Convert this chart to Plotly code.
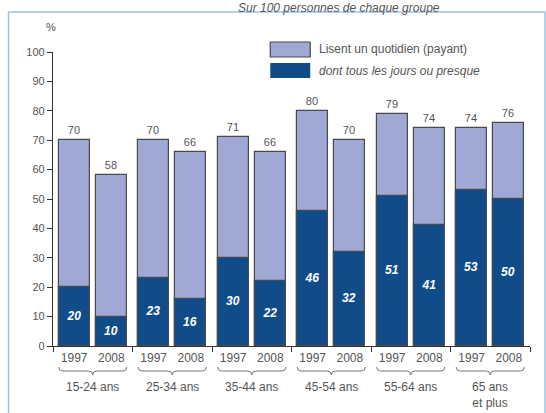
import plotly.graph_objects as go

groups = ["15-24 ans", "25-34 ans", "35-44 ans", "45-54 ans", "55-64 ans", "65 ans<br>et plus"]
years = ["1997", "2008"]
total_1997 = [70, 70, 71, 80, 79, 74]
total_2008 = [58, 66, 66, 70, 74, 76]
daily_1997 = [20, 23, 30, 46, 51, 53]
daily_2008 = [10, 16, 22, 32, 41, 50]

LIGHT = "#a0a8d6"
DARK = "#114c8a"
GRAY = "#555555"
FONT = "Liberation Sans, Arial, sans-serif"

# layout geometry (pixels -> paper)
L, R, T, B = 52.5, 530, 52, 346
def px_x(p):
    return (p - L) / (R - L)
def px_y(p):
    return (B - p) / (B - T)

offsets = [0.266, 0.734]
width = 0.39

xs, totals, dailies, ticktext = [], [], [], []
for g in range(len(groups)):
    for k, (tot, dly) in enumerate([(total_1997[g], daily_1997[g]), (total_2008[g], daily_2008[g])]):
        xs.append(g + offsets[k])
        totals.append(tot)
        dailies.append(dly)
        ticktext.append(years[k])

fig = go.Figure()
fig.add_trace(go.Bar(
    x=xs, y=totals, width=width,
    marker=dict(color=LIGHT, line=dict(color="#4a4a4a", width=1.2)),
    text=[str(v) for v in totals], textposition="outside",
    textfont=dict(color=GRAY, size=11, family=FONT),
    cliponaxis=False, showlegend=False, name="Lisent un quotidien (payant)",
))
fig.add_trace(go.Bar(
    x=xs, y=dailies, width=width,
    marker=dict(color=DARK, line=dict(color="#4a4a4a", width=1.2)),
    text=[str(v) for v in dailies], textposition="inside", insidetextanchor="middle",
    textfont=dict(color="white", size=12, family=FONT, weight="bold", style="italic"),
    showlegend=False, name="dont tous les jours ou presque",
))

shapes = []
annotations = []

# outer frame
shapes.append(dict(type="rect", xref="paper", yref="paper",
                   x0=px_x(8), x1=px_x(545), y0=px_y(460), y1=px_y(12),
                   line=dict(color="#9cc3e6", width=1.5), fillcolor="rgba(0,0,0,0)", layer="below"))

# braces and group labels
for g, name in enumerate(groups):
    x0 = g + offsets[0] - width / 2
    x1 = g + offsets[1] + width / 2
    xc = g + 0.5
    ya, yb, yc = px_y(367), px_y(371), px_y(375)
    d = 0.05
    path = (f"M {x0},{ya} Q {x0},{yb} {x0+d},{yb} L {xc-d},{yb} Q {xc},{yb} {xc},{yc} "
            f"Q {xc},{yb} {xc+d},{yb} L {x1-d},{yb} Q {x1},{yb} {x1},{ya}")
    shapes.append(dict(type="path", xref="x", yref="paper", path=path,
                       line=dict(color="#777777", width=1)))
    annotations.append(dict(x=xc, y=px_y(378), xref="x", yref="paper", text=name,
                            showarrow=False, yanchor="top", align="center",
                            font=dict(color=GRAY, size=12, family=FONT)))

# legend (manual)
shapes.append(dict(type="rect", xref="paper", yref="paper",
                   x0=px_x(270), x1=px_x(310), y0=px_y(57), y1=px_y(42),
                   fillcolor=LIGHT, line=dict(color="#4a4a4a", width=1.2)))
shapes.append(dict(type="rect", xref="paper", yref="paper",
                   x0=px_x(270), x1=px_x(310), y0=px_y(78), y1=px_y(63),
                   fillcolor=DARK, line=dict(width=0)))
annotations.append(dict(x=px_x(317), y=px_y(49.5), xref="paper", yref="paper",
                        text="Lisent un quotidien (payant)", showarrow=False,
                        xanchor="left", yanchor="middle",
                        font=dict(color=GRAY, size=12, family=FONT)))
annotations.append(dict(x=px_x(317), y=px_y(70.5), xref="paper", yref="paper",
                        text="<i>dont tous les jours ou presque</i>", showarrow=False,
                        xanchor="left", yanchor="middle",
                        font=dict(color=GRAY, size=12, family=FONT)))

# unit and subtitle
annotations.append(dict(x=px_x(43), y=px_y(19), xref="paper", yref="paper", text="%",
                        showarrow=False, font=dict(color=GRAY, size=11, family=FONT)))
annotations.append(dict(x=px_x(236), y=px_y(-1), xref="paper", yref="paper",
                        text="<i>Sur 100 personnes de chaque groupe</i>", showarrow=False,
                        xanchor="left", yanchor="top",
                        font=dict(color=GRAY, size=12, family=FONT)))

fig.update_layout(
    width=546, height=413,
    margin=dict(l=L, r=546 - R, t=T, b=413 - B),
    paper_bgcolor="white", plot_bgcolor="white",
    barmode="overlay", bargap=0,
    font=dict(family=FONT, color=GRAY),
    shapes=shapes, annotations=annotations,
    xaxis=dict(range=[0, len(groups)], tickmode="array", tickvals=xs, ticktext=ticktext,
               ticks="", showline=True, linecolor="#333333", linewidth=1.2,
               showgrid=False, zeroline=False, fixedrange=True,
               tickfont=dict(color=GRAY, size=12, family=FONT),
               minor=dict(tickmode="array", tickvals=list(range(len(groups) + 1)),
                          ticks="outside", ticklen=5, tickcolor="#333333", tickwidth=1.2)),
    yaxis=dict(range=[0, 100], tickmode="array", tickvals=list(range(0, 101, 10)),
               ticks="outside", ticklen=5, tickcolor="#333333", tickwidth=1.2,
               showline=True, linecolor="#333333", linewidth=1.2,
               showgrid=False, zeroline=False, fixedrange=True,
               tickfont=dict(color=GRAY, size=11, family=FONT)),
)

fig.write_html("out.html")
